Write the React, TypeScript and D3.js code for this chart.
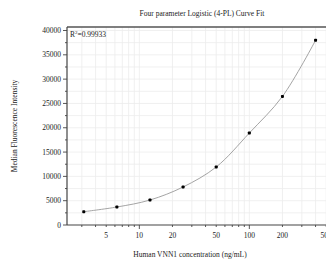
import React, { useEffect, useRef } from 'react'
import * as d3 from 'd3'

// standard curve, 2-fold dilutions
const concentrations = [3.125, 6.25, 12.5, 25, 50, 100, 200, 400]
const mfi = [2740, 3700, 5140, 7820, 11930, 18920, 26450, 37980]
const xTickLabels = [5, 10, 20, 50, 100, 200, 500]
const yTickValues = [0, 5000, 10000, 15000, 20000, 25000, 30000, 35000, 40000]
const rSquared = '0.99933'

const FONT = '"Liberation Serif", "DejaVu Serif", serif'

function App() {
    const ref = useRef<SVGSVGElement>(null)

    useEffect(() => {
        const svg = d3.select(ref.current)
        svg.selectAll('*').remove()

        const left = 67
        const top = 27
        const bottom = 225
        const decade = 110
        const xMin = 2.2
        const xMax = 700

        const xScale = d3
            .scaleLog()
            .domain([xMin, xMax])
            .range([left, left + decade * Math.log10(xMax / xMin)])
        const yScale = d3
            .scaleLinear()
            .domain([0, 40000])
            .range([bottom, 30.5])
        const yTop = yScale.invert(top)
        const right = xScale(xMax)

        const data = concentrations.map((c, i) => ({ x: c, y: mfi[i] }))

        // grid
        const grid = svg.append('g').attr('stroke', '#ececec').attr('stroke-width', 0.8)
        xScale.ticks().filter(t => t > xMin).forEach(t => {
            grid.append('line')
                .attr('x1', xScale(t)).attr('x2', xScale(t))
                .attr('y1', top).attr('y2', bottom)
        })
        d3.range(2500, yTop, 2500).forEach(v => {
            grid.append('line')
                .attr('x1', left).attr('x2', right)
                .attr('y1', yScale(v)).attr('y2', yScale(v))
        })

        // fitted curve
        const line = d3
            .line<{ x: number; y: number }>()
            .x(d => xScale(d.x))
            .y(d => yScale(d.y))
            .curve(d3.curveCatmullRom.alpha(0.5))
        svg.append('path')
            .datum(data)
            .attr('fill', 'none')
            .attr('stroke', '#9a9a9a')
            .attr('stroke-width', 0.9)
            .attr('d', line)

        svg.append('g')
            .selectAll('rect')
            .data(data)
            .join('rect')
            .attr('x', d => xScale(d.x) - 1.5)
            .attr('y', d => yScale(d.y) - 1.5)
            .attr('width', 3)
            .attr('height', 3)
            .attr('rx', 0.8)
            .attr('fill', '#000')

        // frame
        svg.append('line')
            .attr('x1', left).attr('x2', right)
            .attr('y1', top).attr('y2', top)
            .attr('stroke', '#555').attr('stroke-width', 1.3)

        // x axis
        const xAxis = svg.append('g')
        xAxis.append('line')
            .attr('x1', left).attr('x2', right)
            .attr('y1', bottom).attr('y2', bottom)
            .attr('stroke', '#444').attr('stroke-width', 1.2)
        xScale.ticks().filter(t => t > xMin).forEach(t => {
            const major = Math.abs(Math.log10(t) - Math.round(Math.log10(t))) < 1e-9
            xAxis.append('line')
                .attr('x1', xScale(t)).attr('x2', xScale(t))
                .attr('y1', bottom).attr('y2', bottom + (major ? 4 : 2))
                .attr('stroke', '#444').attr('stroke-width', 0.9)
        })
        xAxis.selectAll('text')
            .data(xTickLabels)
            .join('text')
            .attr('x', d => xScale(d))
            .attr('y', bottom + 13)
            .attr('text-anchor', 'middle')
            .attr('font-family', FONT)
            .attr('font-size', 7.5)
            .attr('fill', '#222')
            .text(d => d)

        // y axis
        const yAxis = svg.append('g')
        yAxis.append('line')
            .attr('x1', left).attr('x2', left)
            .attr('y1', top).attr('y2', bottom)
            .attr('stroke', '#444').attr('stroke-width', 1.2)
        d3.range(0, yTop, 2500).forEach(v => {
            const major = v % 5000 === 0
            yAxis.append('line')
                .attr('x1', left - (major ? 4 : 2)).attr('x2', left)
                .attr('y1', yScale(v)).attr('y2', yScale(v))
                .attr('stroke', '#444').attr('stroke-width', 0.9)
        })
        yAxis.selectAll('text')
            .data(yTickValues)
            .join('text')
            .attr('x', left - 6)
            .attr('y', d => yScale(d))
            .attr('dy', '0.34em')
            .attr('text-anchor', 'end')
            .attr('font-family', FONT)
            .attr('font-size', 7.5)
            .attr('fill', '#222')
            .text(d => d)

        // texts
        svg.append('text')
            .attr('x', 202)
            .attr('y', 16)
            .attr('text-anchor', 'middle')
            .attr('font-family', FONT)
            .attr('font-size', 7.5)
            .attr('fill', '#222')
            .text('Four parameter Logistic (4-PL) Curve Fit')
        svg.append('text')
            .attr('x', 190)
            .attr('y', 257)
            .attr('text-anchor', 'middle')
            .attr('font-family', FONT)
            .attr('font-size', 7.5)
            .attr('fill', '#222')
            .text('Human VNN1 concentration (ng/mL)')
        svg.append('text')
            .attr('transform', `translate(17,${(top + bottom) / 2}) rotate(-90)`)
            .attr('text-anchor', 'middle')
            .attr('font-family', FONT)
            .attr('font-size', 7.5)
            .attr('fill', '#222')
            .text('Median Fluorescence Intensity')

        const r2 = svg.append('text')
            .attr('x', left + 3)
            .attr('y', 37)
            .attr('font-family', FONT)
            .attr('font-size', 7.5)
            .attr('fill', '#222')
        r2.append('tspan').text('R')
        r2.append('tspan').attr('font-size', 5).attr('dy', -3).text('2')
        r2.append('tspan').attr('dy', 3).text('=' + rSquared)
    }, [])

    return (
        <svg
            ref={ref}
            width={326}
            height={268}
            style={{ position: 'absolute', left: 0, top: 0, background: '#fff' }}
        />
    )
}

export default App
